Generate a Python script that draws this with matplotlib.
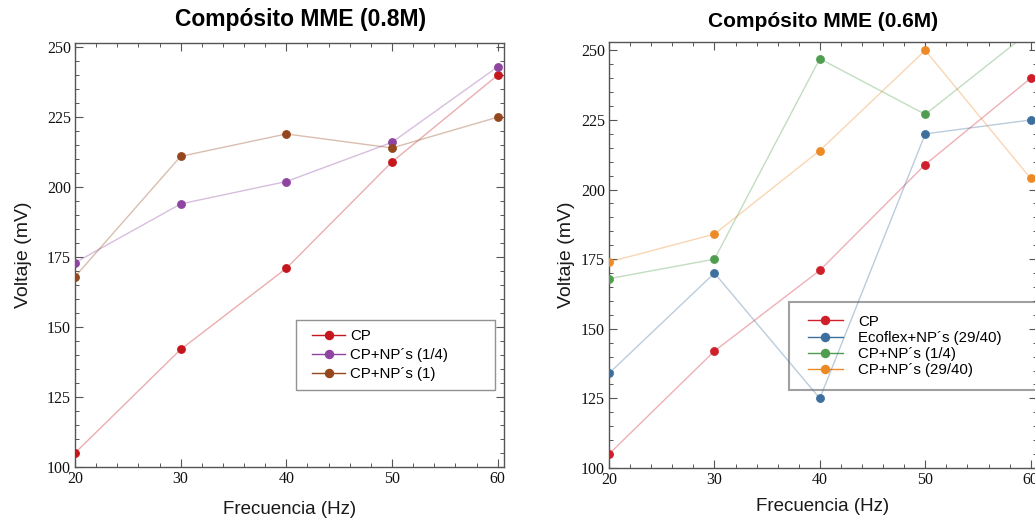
import matplotlib
matplotlib.use("Agg")
import matplotlib.pyplot as plt
from matplotlib.ticker import MultipleLocator
from matplotlib.legend_handler import HandlerLine2D

freq = [20, 30, 40, 50, 60]

# Left chart (0.8M)
left_title = "Compósito MME (0.8M)"
left_labels = ["CP", "CP+NP´s (1/4)", "CP+NP´s (1)"]
left_cp = [105, 142, 171, 209, 240]
left_np14 = [173, 194, 202, 216, 243]
left_np1 = [168, 211, 219, 214, 225]
left_colors = ["#c4161c", "#8e44a0", "#94461c"]

# Right chart (0.6M)
right_title = "Compósito MME (0.6M)"
right_labels = ["CP", "Ecoflex+NP´s (29/40)", "CP+NP´s (1/4)", "CP+NP´s (29/40)"]
right_cp = [105, 142, 171, 209, 240]
right_eco = [134, 170, 125, 220, 225]
right_np14 = [168, 175, 247, 227, 257]
right_np2940 = [174, 184, 214, 250, 204]
right_colors = ["#cf1f2a", "#3c6e9e", "#4f9e4f", "#ee8a25"]

W, H = 1035, 518
fig = plt.figure(figsize=(W / 100, H / 100), dpi=100)

sans = ["Liberation Sans", "DejaVu Sans"]
serif = ["Liberation Serif", "DejaVu Serif"]


class OffsetHandler(HandlerLine2D):
    def __init__(self, offset_frac, **kw):
        super().__init__(**kw)
        self.offset_frac = offset_frac

    def create_artists(self, legend, orig_handle, xdescent, ydescent,
                       width, height, fontsize, trans):
        off = self.offset_frac * fontsize
        return super().create_artists(legend, orig_handle, xdescent - off,
                                      ydescent, width - off, height,
                                      fontsize, trans)


def px(l, t, r, b):
    return [l / W, 1 - b / H, (r - l) / W, (b - t) / H]


def style(ax, ylim, ylabelpad, xlabelpad):
    ax.set_xlim(20, 60.6)
    ax.set_ylim(*ylim)
    ax.xaxis.set_major_locator(MultipleLocator(10))
    ax.xaxis.set_minor_locator(MultipleLocator(2))
    ax.yaxis.set_major_locator(MultipleLocator(25))
    ax.yaxis.set_minor_locator(MultipleLocator(5))
    ax.tick_params(which="both", direction="in", top=True, right=True,
                   colors="#555555", labelcolor="#111111")
    ax.tick_params(which="major", length=6, width=0.8, labelsize=11.5, pad=3)
    ax.tick_params(which="minor", length=3, width=0.7)
    for lab in ax.get_xticklabels() + ax.get_yticklabels():
        lab.set_family(serif)
    for s in ax.spines.values():
        s.set_color("#555555")
        s.set_linewidth(1.0)
    ax.set_xlabel("Frecuencia (Hz)", family=sans, fontsize=13.5, color="#1a1a1a",
                  labelpad=xlabelpad)
    ax.set_ylabel("Voltaje (mV)", family=sans, fontsize=14, color="#1a1a1a",
                  labelpad=ylabelpad)


def series(ax, y, color, label):
    ax.plot(freq, y, color=color, alpha=0.35, lw=1.0, zorder=2)
    ax.plot(freq, y, ls="none", marker="o", ms=5.8, mfc=color,
            mec=color, mew=0.5, zorder=3)
    return ax.plot([], [], color=color, lw=1.0, marker="o", ms=5.8,
                   mfc=color, mec=color, label=label, alpha=1.0)[0]


# Left
ax1 = fig.add_axes(px(75, 43, 504, 467))
h1 = []
for y, c, l in zip([left_cp, left_np14, left_np1], left_colors, left_labels):
    h1.append(series(ax1, y, c, l))
style(ax1, (100, 251.5), 11, 10)
ax1.set_title(left_title, family=sans, fontsize=16.5, fontweight="bold", pad=12,
              x=0.525)
leg1 = ax1.legend(handles=h1, loc="upper left",
                  bbox_to_anchor=(0.515, 0.247, 0.465, 0.1),
                  mode="expand", prop={"family": sans, "size": 10.8},
                  frameon=True, fancybox=False, edgecolor="#777777",
                  handlelength=2.65, handletextpad=0.35, labelspacing=0.35,
                  borderpad=0.6, borderaxespad=0,
                  handler_map={h: OffsetHandler(0.5) for h in h1})
leg1.get_frame().set_linewidth(1.0)

# Right
ax2 = fig.add_axes(px(609, 42, 1037, 468))
h2 = []
for y, c, l in zip([right_cp, right_eco, right_np14, right_np2940], right_colors, right_labels):
    h2.append(series(ax2, y, c, l))
style(ax2, (100, 253), 4, 7)
ax2.set_title(right_title, family=sans, fontsize=15, fontweight="bold", pad=11)
leg2 = ax2.legend(handles=h2, loc="upper left",
                  bbox_to_anchor=(0.42, 0.29, 0.7, 0.1),
                  mode="expand", prop={"family": sans, "size": 10.8},
                  frameon=True, fancybox=False, edgecolor="#888888",
                  facecolor=(1, 1, 1, 0), framealpha=None,
                  handlelength=2.75, handletextpad=1.0, labelspacing=0.15,
                  borderpad=0.85, borderaxespad=0,
                  handler_map={h: OffsetHandler(0.4) for h in h2})
leg2.get_frame().set_linewidth(1.5)
leg2.set_zorder(1)

fig.savefig("out.png", dpi=100)
